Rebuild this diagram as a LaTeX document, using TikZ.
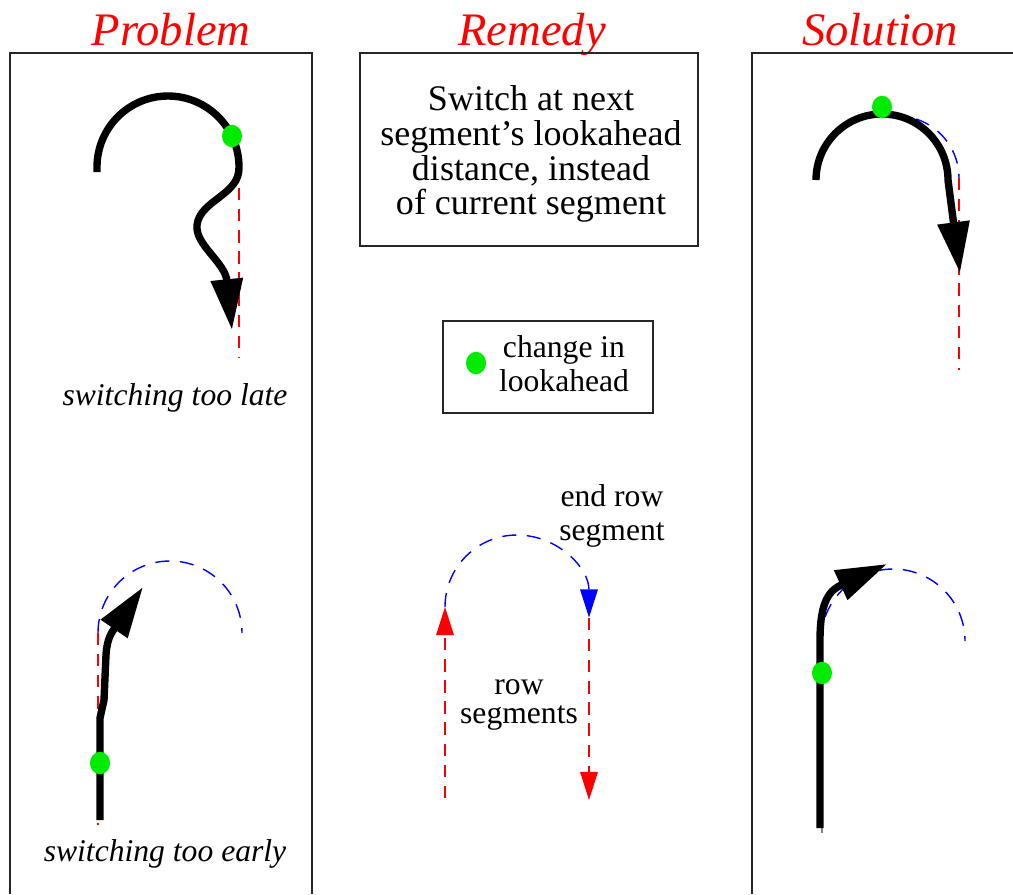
\documentclass[tikz,border=0pt]{standalone}
\usepackage{fontspec}
\setmainfont{Liberation Serif}
\usepackage{tikz}
\usetikzlibrary{positioning,arrows.meta,shapes.geometric}
\definecolor{dotgreen}{RGB}{0,235,0}

\begin{document}
\begin{tikzpicture}[x=0.02cm, y=-0.02cm,
  title/.style={text=red, font=\fontsize{26.5}{30}\selectfont\itshape, anchor=base},
  box/.style={draw=black!85, line width=0.8pt, align=center, inner sep=0pt},
  lbl/.style={align=center, font=\fontsize{18}{19.5}\selectfont, inner sep=0pt},
  note/.style={font=\fontsize{18}{20}\selectfont\itshape, inner sep=0pt},
  dot/.style={ellipse, fill=dotgreen, minimum width=0.4cm, minimum height=0.45cm, inner sep=0pt},
  track/.style={line width=4.2pt, -{Triangle[length=29pt, width=17.5pt]}},
  rowseg/.style={red, line width=0.8pt, dash pattern=on 7pt off 5pt},
  endseg/.style={blue, line width=0.8pt, dash pattern=on 8pt off 6pt},
  tip/.style={-{Triangle[length=16pt, width=10pt]}}]
  \useasboundingbox (0,0) rectangle (1013,894);
  % panels and headings
  \draw[line width=0.8pt, black!85] (10,894) -- (10,53) -- (312,53) -- (312,894);
  \draw[line width=0.8pt, black!85] (752,894) -- (752,53) -- (1013,53);
  \node[title] (problem) at (171,45) {Problem};
  \node[title] (remedy) at (532,45) {Remedy};
  \node[title] (solution) at (880,45) {Solution};
  \node[box, minimum width=6.76cm, minimum height=3.86cm] (rule) at (529,149.5) {};
  \node[lbl, font=\fontsize{20.5}{19.8}\selectfont] (ruletxt) at (531,154)
       {Switch at next\\segment's lookahead\\distance, instead\\of current segment};
  \node[box, minimum width=4.2cm, minimum height=1.84cm] (legend) at (548,367) {};
  \node[dot] (legdot) at (476,363) {};
  \node[lbl] (legtxt) at (564,364) {change in\\lookahead};
  % problem: too late
  \draw[rowseg] (239,167) -- (239,358);
  \draw[track] (97,172) -- (97,167) arc[start angle=180, end angle=360, radius=71]
       .. controls (240,195) and (200,200) .. (197,225) .. controls (195,245) and (225,262) .. (232,330);
  \node[dot] (latedot) at (232,136) {};
  \node[note] (late) at (175,398) {switching too late};
  % problem: too early
  \draw[endseg] (98,633) arc[start angle=180, end angle=360, radius=72];
  \draw[rowseg] (98,633) -- (98,825);
  \draw[track] (100,820) -- (100,718) -- (104,700) -- (106,655) .. controls (107,638) and (112,632) .. (143,587);
  \node[dot] (earlydot) at (100,763) {};
  \node[note] (early) at (165,854) {switching too early};
  % remedy: row segments
  \draw[endseg, tip, blue, shorten >=-6pt] (445,607) arc[start angle=180, end angle=360, radius=72];
  \draw[rowseg, tip] (445,798) -- (445,607);
  \draw[rowseg, tip] (589,618) -- (589,800);
  \node[lbl] (endrow) at (612,516) {end row\\segment};
  \node[lbl, font=\fontsize{18}{17}\selectfont] (rowsegs) at (519,705) {row\\segments};
  % solution
  \draw[endseg] (897,178) ++(288:62) arc[start angle=288, end angle=360, radius=62];
  \draw[rowseg] (959,178) -- (959,370);
  \draw[track] (816,180) arc[start angle=180, end angle=360, radius=66] -- (960,273);
  \node[dot] (soldot) at (882,107) {};
  \draw[endseg] (821,641) arc[start angle=180, end angle=360, radius=72];
  \draw[gray, line width=0.6pt] (822,833) -- (822,640);
  \draw[track] (820,828) -- (820,640) .. controls (820,600) and (830,590) .. (887,564);
  \node[dot] (turndot) at (822,673) {};
\end{tikzpicture}
\end{document}
